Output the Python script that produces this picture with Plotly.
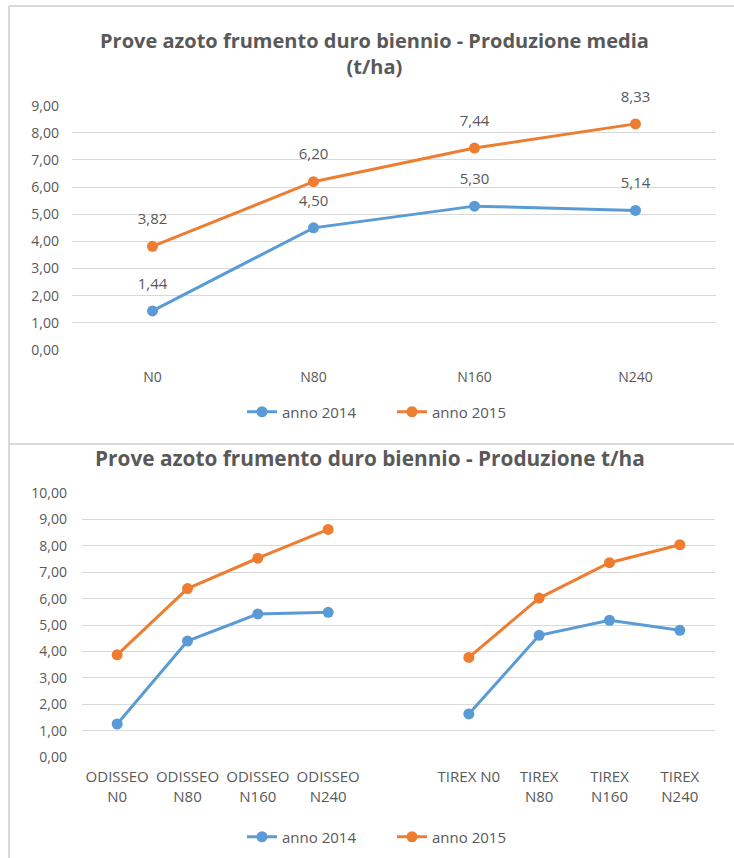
import plotly.graph_objects as go

# ---- data ----
top_categories = ["N0", "N80", "N160", "N240"]
top_2014 = [1.44, 4.50, 5.30, 5.14]
top_2015 = [3.82, 6.20, 7.44, 8.33]

bottom_categories = ["ODISSEO<br>N0", "ODISSEO<br>N80", "ODISSEO<br>N160", "ODISSEO<br>N240", " ",
                     "TIREX N0", "TIREX<br>N80", "TIREX<br>N160", "TIREX<br>N240"]
bottom_2014 = [1.25, 4.39, 5.42, 5.48, None, 1.63, 4.61, 5.18, 4.80]
bottom_2015 = [3.87, 6.38, 7.53, 8.62, None, 3.77, 6.02, 7.36, 8.04]

series_names = ["anno 2014", "anno 2015"]
top_ticks = [0, 1, 2, 3, 4, 5, 6, 7, 8, 9]
bottom_ticks = [0, 1, 2, 3, 4, 5, 6, 7, 8, 9, 10]

BLUE = "#5B9BD5"
ORANGE = "#ED7D31"
GREY = "#595959"
GRID = "#D9D9D9"
FONT = "Open Sans"

W, H = 734, 858

def px_x(v):
    return v / W

def px_y(v):
    return 1 - v / H

fig = go.Figure()

for name, vals, col in zip(series_names, [top_2014, top_2015], [BLUE, ORANGE]):
    fig.add_trace(go.Scatter(
        x=top_categories, y=vals, name=name, mode="lines+markers",
        line=dict(color=col, width=3), marker=dict(color=col, size=11),
        xaxis="x", yaxis="y", legend="legend", cliponaxis=False,
    ))
# data labels (invisible larger marker to push the label upward)
for vals in [top_2014, top_2015]:
    fig.add_trace(go.Scatter(
        x=top_categories, y=vals, mode="markers+text", showlegend=False,
        marker=dict(size=28, opacity=0), hoverinfo="skip",
        texttemplate="%{y:.2f}", textposition="top center",
        textfont=dict(family=FONT, size=15, color=GREY),
        xaxis="x", yaxis="y", cliponaxis=False,
    ))

for name, vals, col in zip(series_names, [bottom_2014, bottom_2015], [BLUE, ORANGE]):
    fig.add_trace(go.Scatter(
        x=bottom_categories, y=vals, name=name, mode="lines+markers",
        line=dict(color=col, width=3), marker=dict(color=col, size=11),
        connectgaps=False,
        xaxis="x2", yaxis="y2", legend="legend2", cliponaxis=False,
    ))

axis_font = dict(family=FONT, size=14, color=GREY)
legend_font = dict(family=FONT, size=15, color=GREY)

fig.update_layout(
    width=W, height=H,
    margin=dict(l=0, r=0, t=0, b=0, autoexpand=False),
    paper_bgcolor="white", plot_bgcolor="white",
    separators=",.",
    font=dict(family=FONT, color=GREY),
    xaxis=dict(domain=[px_x(72), px_x(716)], anchor="y", type="category",
               categoryorder="array", categoryarray=top_categories,
               range=[-0.5, len(top_categories) - 0.5], automargin=False,
               showgrid=False, showline=False, zeroline=False,
               ticks="outside", ticklen=14, tickcolor="rgba(0,0,0,0)",
               tickfont=axis_font),
    yaxis=dict(domain=[px_y(350), px_y(105.7)], anchor="x", range=[0, 9],
               tickvals=top_ticks, tickformat=".2f", showgrid=True, gridcolor=GRID,
               gridwidth=1, zeroline=False, showline=False, automargin=False,
               ticklabelstandoff=12, tickfont=axis_font),
    xaxis2=dict(domain=[px_x(82), px_x(715)], anchor="y2", type="category",
                categoryorder="array", categoryarray=bottom_categories,
                range=[-0.5, len(bottom_categories) - 0.5], automargin=False,
                showgrid=False, showline=False, zeroline=False,
                ticks="outside", ticklen=6, tickcolor="rgba(0,0,0,0)",
                tickfont=dict(family=FONT, size=15, color=GREY), tickangle=0),
    yaxis2=dict(domain=[px_y(757), px_y(493)], anchor="x2", range=[0, 10],
                tickvals=bottom_ticks, tickformat=".2f", showgrid=True, gridcolor=GRID,
                gridwidth=1, zeroline=False, showline=False, automargin=False,
                ticklabelstandoff=14, tickfont=axis_font),
    legend=dict(orientation="h", x=px_x(392), xanchor="center", y=px_y(412), yanchor="middle",
                font=legend_font, entrywidth=105, itemwidth=30,
                bgcolor="rgba(0,0,0,0)"),
    legend2=dict(orientation="h", x=px_x(392), xanchor="center", y=px_y(837), yanchor="middle",
                 font=legend_font, entrywidth=105, itemwidth=30,
                 bgcolor="rgba(0,0,0,0)"),
    showlegend=True,
)

fig.add_annotation(text="<b>Prove azoto frumento duro biennio - Produzione media<br>(t/ha)</b>",
                   xref="paper", yref="paper", x=px_x(374), y=px_y(54), xanchor="center",
                   yanchor="middle", showarrow=False,
                   font=dict(family=FONT, size=20, color=GREY))
fig.add_annotation(text="<b>Prove azoto frumento duro biennio - Produzione t/ha</b>",
                   xref="paper", yref="paper", x=px_x(370), y=px_y(458), xanchor="center",
                   yanchor="middle", showarrow=False,
                   font=dict(family=FONT, size=20.8, color=GREY))

# chart frames
line_style = dict(color=GRID, width=2)
fig.add_shape(type="line", xref="paper", yref="paper", x0=px_x(9), x1=1, y0=px_y(6), y1=px_y(6), line=line_style)
fig.add_shape(type="line", xref="paper", yref="paper", x0=px_x(9), x1=px_x(9), y0=px_y(6), y1=0, line=line_style)
fig.add_shape(type="line", xref="paper", yref="paper", x0=px_x(9), x1=1, y0=px_y(444), y1=px_y(444), line=line_style)

fig.write_html("out.html")
